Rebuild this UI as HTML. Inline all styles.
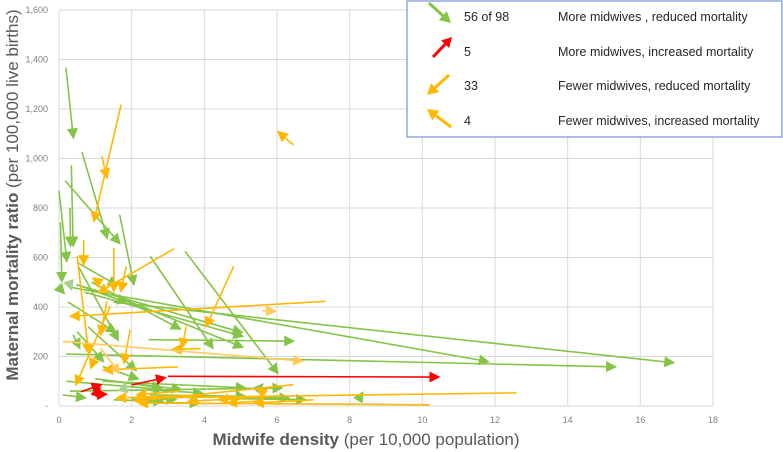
<!DOCTYPE html>
<html><head><meta charset="utf-8">
<style>
body{margin:0;background:#fff;width:783px;height:452px;overflow:hidden;font-family:"Liberation Sans",sans-serif}
svg{position:absolute;left:0;top:0}
</style></head>
<body>
<svg id="chart" width="783" height="452" xmlns="http://www.w3.org/2000/svg">
<g id="grid"></g>
<g id="ticks" font-size="9" fill="#7f7f7f"></g>
<g id="arrows"></g>
<text transform="translate(18,195) rotate(-90)" text-anchor="middle" font-size="17" fill="#595959"><tspan font-weight="bold">Maternal mortality ratio</tspan> (per 100,000 live births)</text>
<text x="366" y="445" text-anchor="middle" font-size="17" fill="#595959"><tspan font-weight="bold">Midwife density</tspan> (per 10,000 population)</text>
<g>
<rect x="407" y="1" width="375" height="136" fill="#fff" stroke="#7f9bd8" stroke-width="1.3"/>
<g id="legendArrows"></g>
<g font-size="12.5" fill="#262626">
<text x="464" y="21">56 of 98</text>
<text x="558" y="21">More midwives , reduced mortality</text>
<text x="464" y="56">5</text>
<text x="558" y="56">More midwives, increased mortality</text>
<text x="464" y="90">33</text>
<text x="558" y="90">Fewer midwives, reduced mortality</text>
<text x="464" y="125">4</text>
<text x="558" y="125">Fewer midwives, increased mortality</text>
</g>
</g>
</svg>
<script>
const xTicks=[0,2,4,6,8,10,12,14,16,18];
const yTicks=[0,200,400,600,800,1000,1200,1400,1600];
const yTickLabels=["-","200","400","600","800","1,000","1,200","1,400","1,600"];
// arrows: start density, start MMR, end density, end MMR, kind
const startX=[0.19,0.63,0.17,1.67,0.34,0.30,0.04,0.0,2.51,3.47,0.48,0.3,0.2,1.5,0.5,0.25,0.55,0.9,0.7,1.8,2.47,0.39,0.5,0.05,0.3,0.5,0.8,1.2,1.0,
 0.2,1.0,2.5,1.2,5.5,0.3,4.5,3.0,2.2,1.5,2.0,2.5,0.1,8.3,1.8,
 0.6,0.9,1.1,2.0,3.0,
 1.71,1.18,3.16,4.81,7.33,6.45,0.68,1.51,1.85,1.1,3.5,3.27,1.96,3.9,1.32,1.41,0.5,1.0,0.11,5.6,1.14,
 12.6,10.2,6.45,5.0,6.0,5.5,7.0,4.0,3.3,5.6];
const startY=[1367,1027,910,773,972,800,742,870,605,625,490,480,210,420,580,420,560,500,460,430,268,288,300,470,490,490,320,160,110,
 100,110,65,100,70,60,30,40,15,25,30,45,45,40,80,
 57,45,65,85,120,
 1218,1009,635,565,423,1055,672,639,565,500,322,158,309,232,423,403,605,200,261,385,235,
 53,5,86,30,40,20,25,45,60,50];
const endX=[0.40,1.34,1.70,2.07,0.39,0.32,0.08,0.22,4.26,6.05,5.08,11.86,15.36,16.96,1.64,1.6,1.65,3.38,5.1,5.1,6.5,0.59,1.25,0.17,0.36,1.9,2.15,2.22,2.86,
 2.9,3.4,3.99,5.17,5.63,6.18,6.83,6.37,3.9,2.9,3.26,5.17,0.77,8.38,1.83,
 1.2,1.35,1.15,2.97,10.5,
 0.95,1.33,1.05,4.03,0.27,6.0,0.68,1.51,1.69,0.9,3.38,1.18,1.78,3.07,1.14,0.45,0.82,0.86,6.75,6.0,1.69,
 2.05,2.15,2.05,3.52,4.35,4.6,5.33,1.55,2.1,5.6];
const endY=[1077,672,652,484,640,640,497,578,228,127,295,178,158,174,484,295,260,308,280,235,262,228,175,450,464,416,140,107,73,
 66,66,52,73,93,73,26,32,12,19,26,39,32,60,100,
 88,48,78,116,117,
 740,915,455,315,362,1112,565,457,457,520,230,146,167,228,282,80,207,147,181,383,127,
 32,12,19,19,26,12,12,32,45,25];
const kind=["g","g","g","g","g","g","g","g","g","g","g","g","g","g","g","g","g","g","g","g","g","g","g","g","lg","g","g","g","g",
 "g","g","g","g","g","g","g","g","g","g","g","g","g","g","lg",
 "r","r","r","r","r",
 "o","o","o","o","o","o","o","o","o","o","o","o","o","o","o","o","o","o","lo","lo","lo",
 "o","o","o","o","o","o","o","o","o","o"];
const colors={g:"#84c446",lg:"#a9d18e",r:"#ff0000",o:"#ffb700",lo:"#ffcc5c"};
const names={g:"green-arrow",lg:"light-green-arrow",r:"red-arrow",o:"orange-arrow",lo:"light-orange-arrow"};
const X0=59,X1=713,Y0=406,Y1=10;
function xs(v){return X0+v*(X1-X0)/18;}
function ys(v){return Y0-v*(Y0-Y1)/1600;}
const NS="http://www.w3.org/2000/svg";
function mk(tag,attrs,parent){const e=document.createElementNS(NS,tag);for(const k in attrs)e.setAttribute(k,attrs[k]);parent.appendChild(e);return e;}
const grid=document.getElementById('grid'),ticks=document.getElementById('ticks');
xTicks.forEach((t,i)=>{
 const l=mk('line',{x1:xs(t),x2:xs(t),y1:Y1,y2:Y0,stroke:"#d9d9d9","stroke-width":1},grid);
 
 
 const tx=mk('text',{x:xs(t),y:423,"text-anchor":"middle"},ticks);tx.textContent=t;
 
 
});
yTicks.forEach((t,i)=>{
 const l=mk('line',{x1:X0,x2:X1,y1:ys(t),y2:ys(t),stroke:"#d9d9d9","stroke-width":1},grid);
 
 
 const tx=mk('text',{x:48,y:ys(t)+3,"text-anchor":"end"},ticks);tx.textContent=yTickLabels[i];
 
 
});
function arrow(parent,x0,y0,x1,y1,col,L,W,sw){
 const g=mk('g',{},parent);
 const dx=x1-x0,dy=y1-y0,d=Math.hypot(dx,dy)||1,ux=dx/d,uy=dy/d;
 const bx=x1-ux*L,by=y1-uy*L;
 if(d>L)mk('line',{x1:x0,y1:y0,x2:bx,y2:by,stroke:col,"stroke-width":sw},g);
 mk('polygon',{points:`${x1},${y1} ${bx-uy*W},${by+ux*W} ${bx+uy*W},${by-ux*W}`,fill:col},g);
 return g;
}
const ag=document.getElementById('arrows');
for(let i=0;i<startX.length;i++){
 const g=arrow(ag,xs(startX[i]),ys(startY[i]),xs(endX[i]),ys(endY[i]),colors[kind[i]],11,5.5,1.6);
 
 
}
const la=document.getElementById('legendArrows');
const lg1=arrow(la,429,3,451,23,colors.g,11,6,3);


const lg2=arrow(la,433,57,452,37,colors.r,10,5.5,3);


const lg3=arrow(la,449,75,427,95,colors.o,11,6,3);


const lg4=arrow(la,451,127,427,109,colors.o,11,6,3);


</script>
</body></html>
